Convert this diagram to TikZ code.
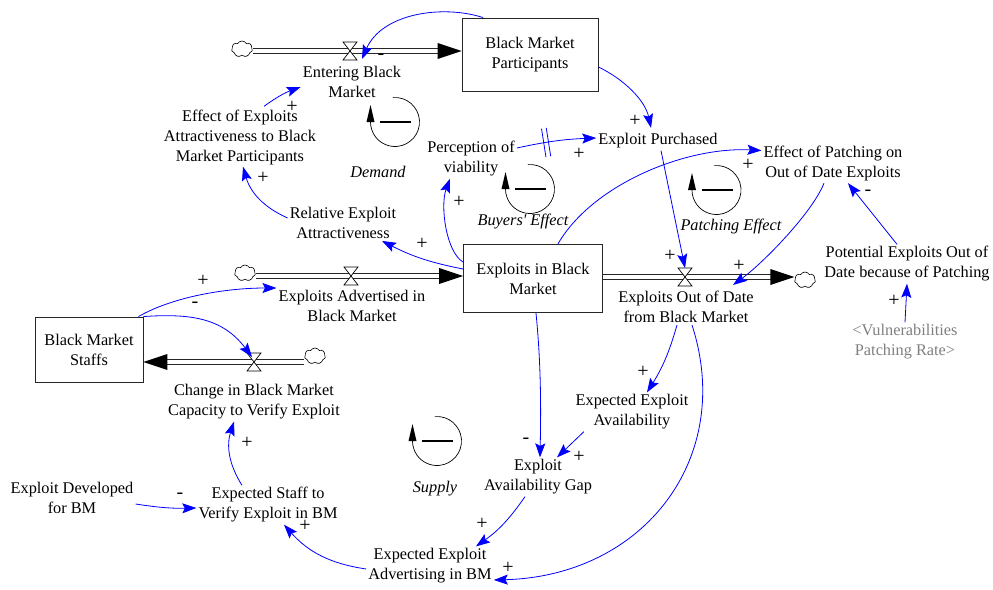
\documentclass[tikz,border=0pt]{standalone}
\usepackage{fontspec}
\setmainfont{Liberation Serif}
\newfontfamily\dfont{Liberation Serif}
\usetikzlibrary{arrows.meta,shapes.symbols}
\definecolor{cblue}{RGB}{0,0,255}
\definecolor{lgray}{RGB}{128,128,128}
\begin{document}
\begin{tikzpicture}[x=1pt,y=1pt,
  txt/.style={font=\dfont\fontsize{16.3}{20}\selectfont, align=center, inner sep=2pt},
  stock/.style={txt, draw=black!85, line width=0.9pt, rectangle},
  conn/.style={draw=cblue, line width=0.8pt, -{Stealth[length=14pt,width=10pt,inset=2.5pt]}},
  pol/.style={font=\dfont\fontsize{20}{20}\selectfont, inner sep=0pt},
  looplab/.style={font=\dfont\fontsize{16.3}{20}\selectfont\itshape, inner sep=0pt},
  pipe/.style={draw=black!85, double=white, double distance=3.4pt, line width=0.9pt},
  cloudn/.style={cloud, cloud puffs=7, cloud puff arc=120, draw=black, line width=0.6pt, minimum width=21pt, minimum height=16pt, inner sep=0pt, aspect=1.3, fill=white},
  pics/valve/.style={code={\filldraw[fill=white, draw=black, line width=0.7pt] (-7,9)--(7,9)--(0,0)--cycle (-7,-9)--(7,-9)--(0,0)--cycle;}},
  pics/flowhead/.style={code={\fill[black] (0,0)--(-24,8)--(-24,-8)--cycle;}},
  pics/loopneg/.style={code={\draw[line width=0.7pt] (95:24.5) arc[start angle=95,end angle=-180,radius=24.5];
      \fill (-28.5,0)--(-20.5,0)--(-24.5,17)--cycle;
      \draw[line width=2.3pt] (-15,0)--(16,0);}},
]
\fill[white] (0,0) rectangle (993,-589);
\useasboundingbox (0,0) rectangle (993,-589);

% stocks
\node[stock, minimum width=136pt, minimum height=73pt] (bmp) at (530,-54.5) {Black Market\\Participants};
\node[stock, minimum width=139pt, minimum height=68.5pt] (ebm) at (533,-278.5) {Exploits in Black\\Market};
\node[stock, minimum width=108pt, minimum height=65pt] (bms) at (89,-349.5) {Black Market\\Staffs};

% valves
\coordinate (v1) at (350,-51);
\coordinate (v2) at (351,-276);
\coordinate (v3) at (254,-362);
\coordinate (v4) at (685,-277);

% clouds
\node[cloudn] (c1) at (242,-49) {};
\node[cloudn] (c2) at (245,-273) {};
\node[cloudn] (c3) at (315,-356) {};
\node[cloudn] (c4) at (805,-280) {};

% pipes
\coordinate (p1s) at (c1.east|-v1); \coordinate (p1e) at (bmp.west|-v1);
\draw[pipe] (p1s) -- ([xshift=-14pt]p1e);
\pic at (p1e) {flowhead};
\pic at (v1) {valve};

\coordinate (p2s) at (c2.east|-v2); \coordinate (p2e) at (ebm.west|-v2);
\draw[pipe] (p2s) -- ([xshift=-14pt]p2e);
\pic at (p2e) {flowhead};
\pic at (v2) {valve};

\coordinate (p3s) at (c3.west|-v3); \coordinate (p3e) at (bms.east|-v3);
\draw[pipe] (p3s) -- ([xshift=14pt]p3e);
\pic[rotate=180] at (p3e) {flowhead};
\pic at (v3) {valve};

\coordinate (p4s) at (ebm.east|-v4); \coordinate (p4e) at (c4.west|-v4);
\draw[pipe] (p4s) -- ([xshift=-14pt]p4e);
\pic at (p4e) {flowhead};
\pic at (v4) {valve};

% flow labels
\node[txt] (fl1) at (352,-82) {Entering Black\\Market};
\node[txt] (fl2) at (352,-306) {Exploits Advertised in\\Black Market};
\node[txt] (fl3) at (254,-402) {Change in Black Market\\Capacity to Verify Exploit};
\node[txt] (fl4) at (686,-307) {Exploits Out of Date\\from Black Market};

% auxiliaries
\node[txt] (eea) at (240,-137) {Effect of Exploits\\Attractiveness to Black\\Market Participants};
\node[txt] (rea) at (343,-223) {Relative Exploit\\Attractiveness};
\node[txt] (pov) at (471,-159) {Perception of\\viability};
\node[txt] (ep) at (658,-141) {Exploit Purchased};
\node[txt] (epo) at (833,-163.5) {Effect of Patching on\\Out of Date Exploits};
\node[txt] (pot) at (907,-264) {Potential Exploits Out of\\Date because of Patching};
\node[txt, text=lgray] (vpr) at (905,-342) {<Vulnerabilities\\Patching Rate>};
\node[txt] (eeav) at (632,-412) {Expected Exploit\\Availability};
\node[txt] (eag) at (538,-477) {Exploit\\Availability Gap};
\node[txt] (eead) at (430,-566) {Expected Exploit\\Advertising in BM};
\node[txt] (esv) at (268,-505) {Expected Staff to\\Verify Exploit in BM};
\node[txt] (edb) at (72,-498) {Exploit Developed\\for BM};

% loops
\pic at (395,-122) {loopneg};
\node[looplab] (lDemand) at (378,-172) {Demand};
\pic at (530,-189) {loopneg};
\node[looplab] (lBuyers) at (523,-222) {Buyers' Effect};
\pic at (716.5,-190) {loopneg};
\node[looplab] (lPatch) at (731,-226) {Patching Effect};
\pic at (437,-441) {loopneg};
\node[looplab] (lSupply) at (435,-489) {Supply};

% connectors
\draw[conn] ([xshift=-47pt]bmp.north) .. controls +(-40,13) and +(20,46) .. ([shift={(12,-8)}]v1);
\node[pol] (s1) at (381,-57) {-};
\draw[conn] ([yshift=-12.5pt]bmp.east) .. controls +(25,-12) and +(-6,28) .. ([shift={(-7,3.5)}]ep.north);
\node[pol] (s2) at (635,-121) {+};
\draw[conn] ([xshift=24pt,yshift=1pt]eea.north) to[bend left=8] ([yshift=-5pt]fl1.west);
\node[pol] (s3) at (292,-107) {+};
\draw[conn] ([yshift=5pt]rea.west) to[bend left=25] ([xshift=3pt]eea.south);
\node[pol] (s4) at (263,-178) {+};
\draw[conn] ([yshift=9.5pt]ebm.west) to[bend left=8] ([xshift=39pt]rea.south);
\node[pol] (s5) at (422,-244) {+};
\draw[conn] ([yshift=16.5pt]ebm.west) .. controls +(-17,10) and +(-10,-27) .. ([xshift=-21pt]pov.south);
\node[pol] (s6) at (459,-202) {+};
\draw[conn] ([yshift=11pt]pov.east) to[bend left=5] node[sloped, pos=0.36, minimum width=4pt, minimum height=28pt, inner sep=0pt] (dm) {} ([yshift=3pt]ep.west);
\draw[cblue, line width=0.8pt] (dm.north west)--(dm.south west) (dm.north east)--(dm.south east);
\node[pol] (s7) at (579,-154) {+};
\draw[conn] ([xshift=25pt]ebm.north) .. controls +(35,60) and +(-75,4) .. ([yshift=13pt]epo.west);
\node[pol] (s8) at (748,-165) {+};
\draw[conn] ([xshift=3pt]ep.south) -- ([yshift=9pt]v4);
\node[pol] (s9) at (670,-256) {+};
\draw[conn] ([xshift=-9pt]epo.south) .. controls +(-12,-30) and +(30,22) .. ([shift={(48,-8)}]v4);
\node[pol] (s10) at (739,-266) {+};
\draw[conn] ([xshift=-10pt]pot.north) -- ([xshift=15pt]epo.south);
\node[pol] (s11) at (868,-193) {-};
\draw[conn] (vpr.north) -- (pot.south);
\node[pol] (s12) at (894,-301) {+};
\draw[conn] ([xshift=-5pt]bms.north east) .. controls +(35,20) and +(-50,0) .. ([yshift=18pt]fl2.west);
\node[pol] (s13) at (203,-281) {+};
\draw[conn] (bms.north east) .. controls +(45,3) and +(-30,40) .. ([shift={(-2,5)}]v3);
\node[pol] (s14) at (195,-305) {-};
\draw[conn] ([xshift=3pt]ebm.south) .. controls +(5,-50) and +(1,50) .. ([xshift=2pt]eag.north);
\node[pol] (s15) at (526,-441) {-};
\draw[conn] ([xshift=-9pt]fl4.south) to[bend left=8] ([xshift=15pt]eeav.north);
\node[pol] (s16) at (643,-372) {+};
\draw[conn] ([xshift=6pt]fl4.south) .. controls +(43,-133) and +(150,4) .. ([yshift=-14pt]eead.east);
\node[pol] (s17) at (508,-568) {+};
\draw[conn] ([xshift=10.5pt]eeav.south west) -- ([xshift=19pt]eag.north);
\node[pol] (s18) at (579,-457) {+};
\draw[conn] ([xshift=-13pt]eag.south) to[bend left=10] ([xshift=46pt]eead.north);
\node[pol] (s19) at (482,-524) {+};
\draw[conn] ([yshift=-3pt]eead.west) to[bend left=20] ([xshift=16pt]esv.south);
\node[pol] (s20) at (305,-526) {+};
\draw[conn] ([yshift=-6pt]edb.east) to[bend right=5] ([yshift=-3pt]esv.west);
\node[pol] (s21) at (180,-496) {-};
\draw[conn] ([xshift=-26pt]esv.north) to[bend left=25] ([xshift=-20pt]fl3.south);
\node[pol] (s22) at (247,-443) {+};
\end{tikzpicture}
\end{document}
